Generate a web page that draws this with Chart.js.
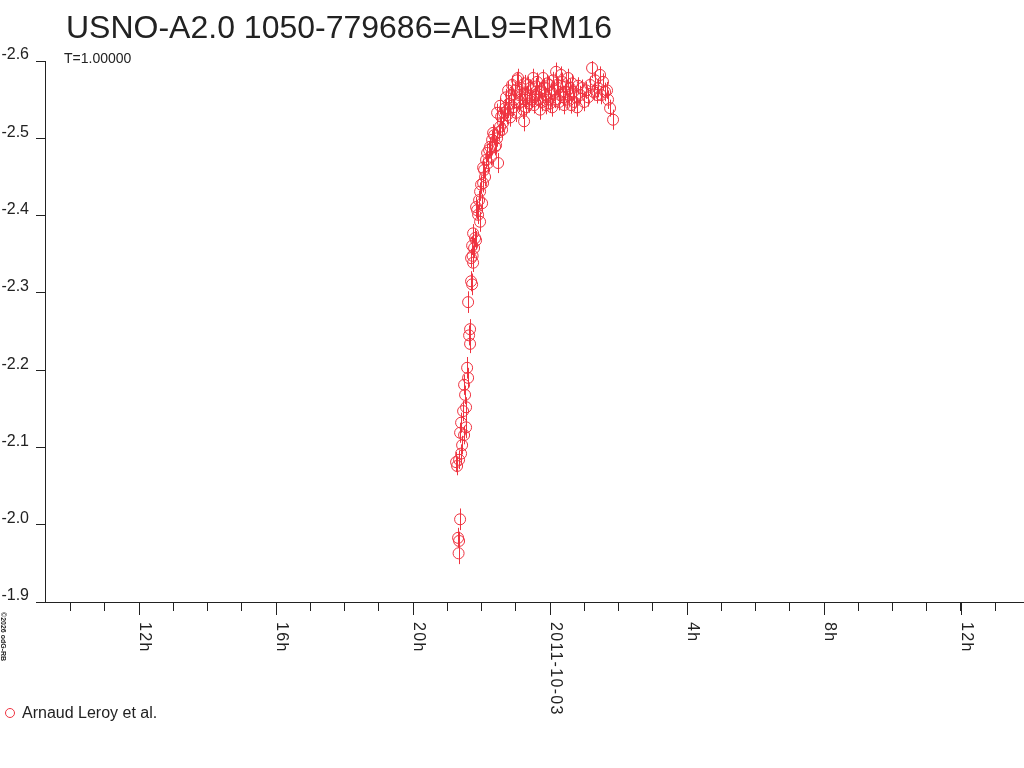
<!DOCTYPE html>
<html>
<head>
<meta charset="utf-8">
<script src="https://cdn.jsdelivr.net/npm/chart.js@4.4.1/dist/chart.umd.min.js"></script>
<style>
  html, body { margin: 0; padding: 0; background: #fff; }
  #wrap { width: 1024px; height: 768px; }
</style>
</head>
<body>
<div id="wrap"><canvas id="lc" width="1024" height="768"></canvas></div>
<script>
// Time in hours from 2011-10-03 00:00 UT, magnitude and its error
const hours = [
    -2.745, -2.715, -2.686, -2.672, -2.657, -2.657, -2.628, -2.628, -2.599, -2.599,
    -2.569, -2.540, -2.511, -2.511, -2.482, -2.453, -2.453, -2.423, -2.394, -2.394,
    -2.365, -2.336, -2.336, -2.307, -2.307, -2.277, -2.277, -2.262, -2.248, -2.248,
    -2.219, -2.190, -2.161, -2.161, -2.131, -2.102, -2.073, -2.044, -2.044, -2.015,
    -1.985, -1.956, -1.956, -1.927, -1.898, -1.869, -1.839, -1.810, -1.781, -1.752,
    -1.723, -1.693, -1.664, -1.635, -1.606, -1.577, -1.547, -1.547, -1.518, -1.489,
    -1.460, -1.460, -1.430, -1.401, -1.372, -1.343, -1.314, -1.285, -1.255, -1.226,
    -1.226, -1.197, -1.168, -1.139, -1.109, -1.080, -1.051, -1.022, -0.993, -0.964,
    -0.934, -0.920, -0.905, -0.876, -0.847, -0.818, -0.788, -0.759, -0.745, -0.730,
    -0.701, -0.672, -0.643, -0.613, -0.584, -0.555, -0.526, -0.496, -0.467, -0.438,
    -0.409, -0.380, -0.350, -0.321, -0.292, -0.263, -0.234, -0.204, -0.175, -0.146,
    -0.117, -0.088, -0.058, -0.029, 0.000, 0.029, 0.058, 0.088, 0.117, 0.146,
    0.175, 0.204, 0.234, 0.263, 0.292, 0.321, 0.350, 0.380, 0.409, 0.438,
    0.467, 0.496, 0.526, 0.555, 0.584, 0.613, 0.643, 0.672, 0.701, 0.745,
    0.788, 0.818, 0.876, 0.934, 0.993, 1.051, 1.109, 1.168, 1.226, 1.270,
    1.314, 1.372, 1.401, 1.460, 1.489, 1.547, 1.606, 1.664, 1.693, 1.752,
    1.839
];
const mags = [
    -2.081, -2.076, -1.983, -1.963, -1.979, -2.084, -2.007, -2.119, -2.092, -2.132,
    -2.103, -2.147, -2.116, -2.181, -2.168, -2.126, -2.152, -2.203, -2.190, -2.288,
    -2.245, -2.253, -2.234, -2.315, -2.345, -2.311, -2.361, -2.348, -2.339, -2.377,
    -2.358, -2.371, -2.368, -2.411, -2.407, -2.401, -2.420, -2.392, -2.431, -2.440,
    -2.416, -2.442, -2.462, -2.459, -2.450, -2.472, -2.481, -2.468, -2.485, -2.489,
    -2.476, -2.498, -2.507, -2.504, -2.489, -2.491, -2.500, -2.533, -2.468, -2.508,
    -2.515, -2.542, -2.528, -2.511, -2.520, -2.533, -2.539, -2.553, -2.530, -2.537,
    -2.562, -2.545, -2.527, -2.556, -2.569, -2.540, -2.550, -2.562, -2.533, -2.575,
    -2.578, -2.545, -2.556, -2.547, -2.565, -2.556, -2.537, -2.522, -2.571, -2.550,
    -2.540, -2.556, -2.569, -2.545, -2.565, -2.553, -2.550, -2.578, -2.543, -2.556,
    -2.567, -2.573, -2.550, -2.560, -2.537, -2.562, -2.547, -2.578, -2.565, -2.556,
    -2.543, -2.571, -2.550, -2.569, -2.545, -2.560, -2.540, -2.575, -2.562, -2.550,
    -2.586, -2.569, -2.565, -2.547, -2.556, -2.582, -2.573, -2.553, -2.543, -2.560,
    -2.567, -2.550, -2.578, -2.556, -2.565, -2.543, -2.571, -2.560, -2.547, -2.553,
    -2.540, -2.568, -2.556, -2.565, -2.547, -2.562, -2.553, -2.569, -2.591, -2.560,
    -2.575, -2.556, -2.565, -2.582, -2.556, -2.573, -2.560, -2.562, -2.550, -2.539,
    -2.524
];
const errs = [
    0.013, 0.012, 0.013, 0.014, 0.012, 0.012, 0.014, 0.013, 0.012, 0.013,
    0.012, 0.013, 0.012, 0.013, 0.012, 0.014, 0.013, 0.014, 0.013, 0.014,
    0.013, 0.013, 0.012, 0.013, 0.012, 0.014, 0.012, 0.013, 0.012, 0.012,
    0.013, 0.012, 0.012, 0.013, 0.012, 0.012, 0.012, 0.013, 0.012, 0.012,
    0.012, 0.012, 0.012, 0.011, 0.012, 0.011, 0.012, 0.012, 0.011, 0.012,
    0.011, 0.012, 0.011, 0.012, 0.011, 0.012, 0.011, 0.012, 0.013, 0.011,
    0.012, 0.011, 0.012, 0.011, 0.012, 0.011, 0.012, 0.011, 0.012, 0.011,
    0.012, 0.011, 0.012, 0.011, 0.012, 0.011, 0.012, 0.011, 0.012, 0.011,
    0.012, 0.011, 0.012, 0.011, 0.012, 0.011, 0.012, 0.013, 0.011, 0.012,
    0.011, 0.012, 0.011, 0.012, 0.011, 0.012, 0.011, 0.012, 0.011, 0.012,
    0.011, 0.012, 0.011, 0.012, 0.013, 0.011, 0.012, 0.011, 0.012, 0.011,
    0.012, 0.011, 0.012, 0.011, 0.012, 0.011, 0.012, 0.011, 0.012, 0.011,
    0.012, 0.011, 0.012, 0.011, 0.012, 0.011, 0.012, 0.011, 0.012, 0.011,
    0.012, 0.011, 0.012, 0.011, 0.012, 0.011, 0.012, 0.011, 0.012, 0.011,
    0.012, 0.011, 0.012, 0.011, 0.012, 0.011, 0.012, 0.011, 0.013, 0.011,
    0.012, 0.011, 0.012, 0.011, 0.012, 0.011, 0.012, 0.011, 0.012, 0.011,
    0.013
];

// Axis ticks: labelled every 4 h, minor tick every hour
const majorHours = [-12, -8, -4, 0, 4, 8, 12];
const majorLabels = ['12h', '16h', '20h', '2011-10-03', '4h', '8h', '12h'];
const yTicks = [-2.6, -2.5, -2.4, -2.3, -2.2, -2.1, -2.0, -1.9];

const red = '#ef3340';
const ink = '#222222';
const fontFamily = '"Liberation Sans", Arial, sans-serif';

const points = hours.map((h, i) => ({ x: h, y: mags[i] }));

// vertical error bars through each point
const errorBars = {
    id: 'errorBars',
    afterDatasetsDraw(chart) {
        const ctx = chart.ctx;
        const x = chart.scales.x, y = chart.scales.y;
        const area = chart.chartArea;
        ctx.save();
        ctx.beginPath();
        ctx.rect(area.left, area.top, area.right - area.left, area.bottom - area.top);
        ctx.clip();
        ctx.strokeStyle = red;
        ctx.lineWidth = 1;
        ctx.beginPath();
        for (let i = 0; i < hours.length; i++) {
            const px = Math.round(x.getPixelForValue(hours[i])) + 0.5;
            ctx.moveTo(px, y.getPixelForValue(mags[i] - errs[i]));
            ctx.lineTo(px, y.getPixelForValue(mags[i] + errs[i]));
        }
        ctx.stroke();
        ctx.restore();
    }
};

// title, subtitle, rotated time labels, legend and credit
const decorations = {
    id: 'decorations',
    afterDraw(chart) {
        const ctx = chart.ctx;
        const x = chart.scales.x;
        const bottom = chart.chartArea.bottom;
        ctx.save();
        ctx.fillStyle = ink;
        ctx.textAlign = 'left';
        ctx.textBaseline = 'alphabetic';

        ctx.font = '32px ' + fontFamily;
        ctx.fillText('USNO-A2.0 1050-779686=AL9=RM16', 66, 38);
        ctx.font = '14px ' + fontFamily;
        ctx.fillText('T=1.00000', 64, 63);

        // longer major ticks + labels reading downwards
        ctx.strokeStyle = ink;
        ctx.lineWidth = 1;
        ctx.font = '16px ' + fontFamily;
        ctx.letterSpacing = '1.3px';
        majorHours.forEach((h, i) => {
            const px = Math.round(x.getPixelForValue(h)) + 0.5;
            ctx.beginPath();
            ctx.moveTo(px, bottom);
            ctx.lineTo(px, bottom + 13);
            ctx.stroke();
            ctx.save();
            ctx.translate(px + 0.5, bottom + 20);
            ctx.rotate(Math.PI / 2);
            ctx.fillText(majorLabels[i], 0, 0);
            ctx.restore();
        });
        ctx.letterSpacing = '0px';

        // credit
        ctx.save();
        ctx.font = 'bold 7px ' + fontFamily;
        ctx.translate(1, 612);
        ctx.rotate(Math.PI / 2);
        ctx.fillText('\u00a92026 odG-RB', 0, 0);
        ctx.restore();

        // legend
        ctx.strokeStyle = red;
        ctx.beginPath();
        ctx.arc(10, 713, 4.5, 0, Math.PI * 2);
        ctx.stroke();
        ctx.fillStyle = ink;
        ctx.font = '16px ' + fontFamily;
        ctx.fillText('Arnaud Leroy et al.', 22, 718);
        ctx.restore();
    }
};

new Chart(document.getElementById('lc'), {
    type: 'scatter',
    data: {
        datasets: [{
            label: 'Arnaud Leroy et al.',
            data: points,
            pointStyle: 'circle',
            pointRadius: 5.5,
            pointHoverRadius: 5.5,
            borderWidth: 1,
            borderColor: red,
            backgroundColor: 'rgba(0,0,0,0)'
        }]
    },
    options: {
        responsive: false,
        animation: false,
        events: [],
        layout: { autoPadding: false, padding: { top: 61, left: 0, right: 0, bottom: 0 } },
        plugins: {
            legend: { display: false },
            tooltip: { enabled: false }
        },
        scales: {
            x: {
                type: 'linear',
                min: -14.75,
                max: 13.84,
                afterFit: function(scale) { scale.height = 166; },
                border: { display: true, color: ink, width: 1 },
                grid: {
                    drawOnChartArea: false,
                    drawTicks: true,
                    tickLength: 9,
                    color: ink,
                    tickColor: ink
                },
                ticks: {
                    display: false,
                    stepSize: 1,
                    includeBounds: false
                }
            },
            y: {
                type: 'linear',
                reverse: true,
                min: -2.6,
                max: -1.9,
                afterFit: function(scale) { scale.width = 45; },
                afterBuildTicks: function(scale) {
                    scale.ticks = yTicks.map(v => ({ value: v }));
                },
                border: { display: true, color: ink, width: 1 },
                grid: {
                    drawOnChartArea: false,
                    drawTicks: true,
                    tickLength: 9,
                    color: ink,
                    tickColor: ink
                },
                ticks: {
                    padding: 7,
                    labelOffset: -6,
                    color: ink,
                    font: { family: fontFamily, size: 16 },
                    callback: function(value) { return value.toFixed(1); }
                }
            }
        }
    },
    plugins: [errorBars, decorations]
});
</script>
</body>
</html>
